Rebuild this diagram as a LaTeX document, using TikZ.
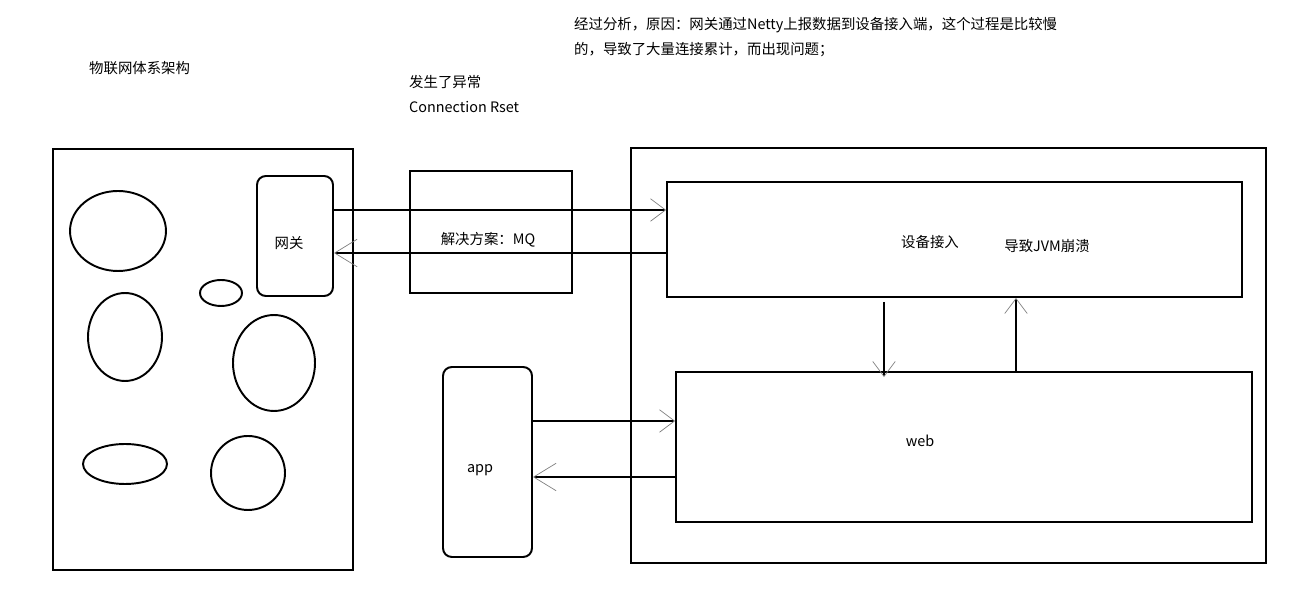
\documentclass[tikz,border=0pt]{standalone}
\usepackage{fontspec}
\setmainfont{Noto Sans CJK SC}
\usetikzlibrary{arrows.meta, shapes.geometric}

\begin{document}
\begin{tikzpicture}[x=0.02cm, y=-0.02cm, font=\fontsize{8.2}{14.7}\selectfont,
    box/.style={draw, line width=1.1pt, inner sep=0pt},
    rbox/.style={box, rounded corners=5pt},
    blob/.style={draw, ellipse, line width=1.1pt, inner sep=0pt},
    conn/.style={line width=1.1pt, -{Straight Barb[length=0.3cm, width=0.45cm, line width=0.4pt, color=gray]}},
    back/.style={line width=1.1pt, -{Straight Barb[length=0.45cm, width=0.55cm, line width=0.4pt, color=gray]}}]
    \useasboundingbox (0,0) rectangle (1303,590);

    % texts on top
    \node[anchor=west] (title) at (83,68) {物联网体系架构};
    \node[anchor=west, align=left] (error) at (403,94) {发生了异常\\Connection Rset};
    \node[anchor=west, align=left] (reason) at (568,37) {经过分析，原因：网关通过Netty上报数据到设备接入端，这个过程是比较慢\\的，导致了大量连接累计，而出现问题；};

    % iot side
    \node[box, minimum width=6cm, minimum height=8.42cm] (iot) at (203,359.5) {};
    \node[rbox, minimum width=1.52cm, minimum height=2.4cm] (gw) at (295,236) {};
    \node (gwtext) at (289,243) {网关};
    \node[blob, minimum width=1.92cm, minimum height=1.6cm] (d1) at (118,231) {};
    \node[blob, minimum width=0.84cm, minimum height=0.52cm] (d2) at (221,293) {};
    \node[blob, minimum width=1.48cm, minimum height=1.76cm] (d3) at (125,337) {};
    \node[blob, minimum width=1.64cm, minimum height=1.92cm] (d4) at (274,363) {};
    \node[blob, minimum width=1.68cm, minimum height=0.8cm] (d5) at (125,464) {};
    \node[blob, minimum width=1.48cm, minimum height=1.48cm] (d6) at (248,473) {};

    % middle
    \node[box, minimum width=3.24cm, minimum height=2.44cm] (mq) at (491,232) {};
    \node (mqtext) at (488,240) {解决方案：MQ};
    \node[rbox, minimum width=1.78cm, minimum height=3.8cm] (app) at (487.5,462) {};
    \node (apptext) at (480,470) {app};

    % server side
    \node[box, minimum width=12.7cm, minimum height=8.3cm] (server) at (948.5,355.5) {};
    \node[box, minimum width=11.5cm, minimum height=2.3cm] (access) at (954.5,239.5) {};
    \node (accesstext) at (930,242) {设备接入};
    \node (jvm) at (1047,246) {导致JVM崩溃};
    \node[box, minimum width=11.52cm, minimum height=3cm] (web) at (964,447) {};
    \node (webtext) at (920,441) {web};

    \draw[conn] (gw.east |- 0,210) -- (access.west |- 0,210);
    \draw[back] (access.west |- 0,253) -- (gw.east |- 0,253);
    \draw[conn] ([yshift=-0.08cm]access.south -| 884,0) -- ([yshift=-0.12cm]web.north -| 884,0);
    \draw[conn] (web.north -| 1016,0) -- (access.south -| 1016,0);
    \draw[conn] (app.east |- 0,421) -- (web.west |- 0,421);
    \draw[back] (web.west |- 0,477) -- (app.east |- 0,477);
\end{tikzpicture}
\end{document}
